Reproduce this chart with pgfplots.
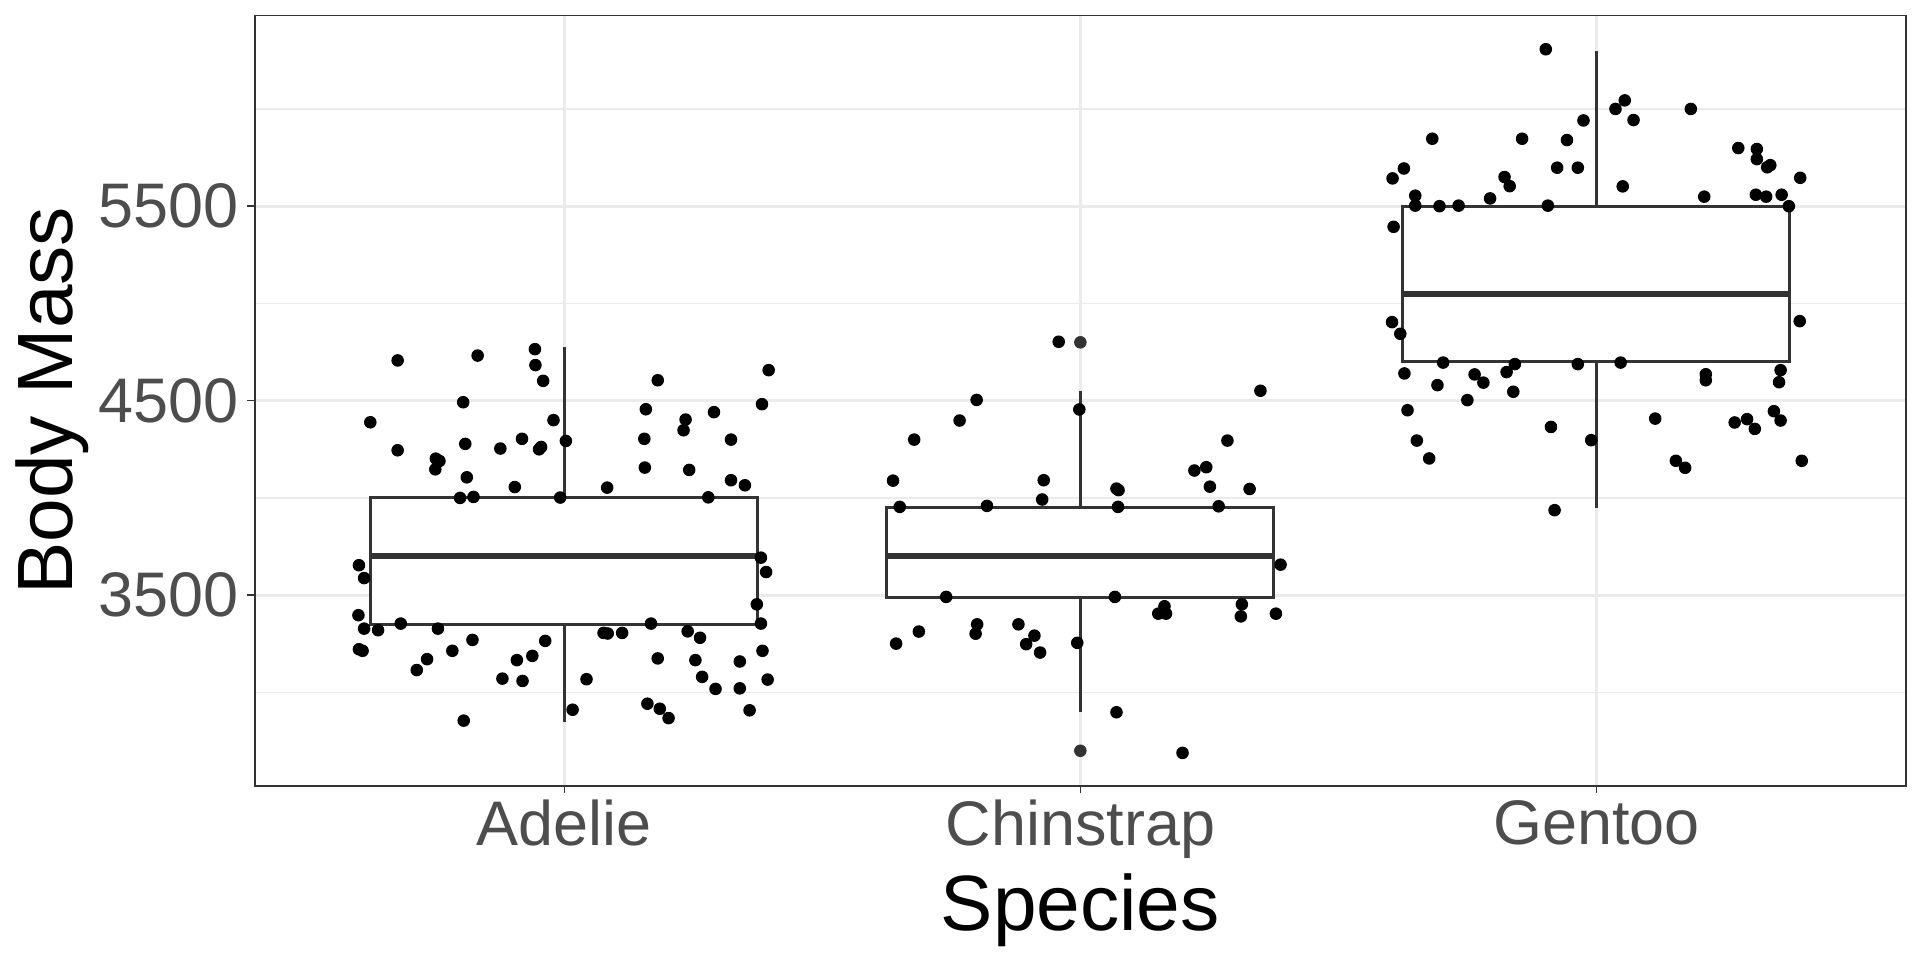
\documentclass[border=0pt]{standalone}
\usepackage{pgfplots}
\usepackage{pgfplotstable}
\usepackage{fontspec}
\setmainfont{Liberation Sans}
\pgfplotsset{compat=1.18}

\definecolor{grey92}{HTML}{EBEBEB}
\definecolor{grey20}{HTML}{333333}
\definecolor{grey30}{HTML}{4D4D4D}

% jittered points (x = category 1..3 plus jitter, y = body mass)
\pgfplotstableread{
x y
0.677 4707
0.832 4732
0.943 4765
0.944 4683
0.959 4602
1.396 4657
1.181 4605
0.804 4492
1.158 4456
1.383 4482
0.624 4389
0.979 4400
1.235 4403
1.231 4348
1.290 4441
0.677 4245
0.808 4278
0.876 4254
0.918 4304
0.951 4250
0.955 4262
1.003 4293
1.155 4304
1.323 4300
0.751 4202
0.758 4190
0.750 4147
0.811 4106
0.904 4056
1.156 4156
1.242 4144
1.323 4091
1.350 4065
1.083 4053
0.798 4000
0.824 4005
0.992 4002
1.279 4003
0.602 3654
0.612 3588
1.381 3693
1.391 3619
0.601 3397
0.612 3328
0.639 3320
0.683 3354
0.755 3328
1.373 3453
1.381 3354
0.822 3270
0.783 3214
0.602 3222
0.609 3214
0.734 3171
0.714 3115
0.908 3166
0.938 3188
0.963 3265
0.880 3071
0.919 3059
1.043 3068
1.076 3306
1.084 3303
1.112 3306
1.168 3354
1.239 3314
1.263 3281
1.181 3175
1.254 3166
1.340 3159
1.384 3214
1.267 3080
1.293 3018
1.340 3021
1.394 3066
0.805 2855
1.016 2911
1.161 2942
1.185 2916
1.202 2868
1.359 2908
}\adelie

\pgfplotstableread{
x y
1.958 4803
1.799 4504
1.766 4398
1.678 4300
1.637 4089
1.929 4091
1.926 3992
1.998 4455
2.349 4551
2.285 4295
2.221 4141
2.244 4158
2.251 4058
2.328 4046
2.070 4048
2.074 4040
1.650 3954
1.819 3959
2.073 3954
2.268 3957
2.388 3657
1.740 3491
2.067 3491
2.163 3443
2.151 3405
2.166 3405
2.313 3453
2.311 3391
2.379 3405
1.687 3313
1.643 3251
1.800 3350
1.797 3302
1.880 3350
1.911 3292
1.895 3248
1.922 3205
1.994 3255
2.070 2898
2.198 2689
}\chinstrap

\pgfplotstableread{
x y
2.902 6307
3.037 6000
3.055 6044
3.072 5943
3.183 6000
2.975 5941
2.943 5840
2.856 5847
2.682 5847
2.627 5694
2.605 5643
2.924 5698
2.964 5698
2.822 5650
2.832 5603
3.051 5602
2.649 5554
2.794 5540
2.649 5503
2.696 5500
2.733 5503
2.906 5503
3.275 5799
3.311 5794
3.311 5742
3.331 5700
3.337 5711
3.395 5646
3.209 5549
3.309 5559
3.329 5549
3.359 5559
3.373 5500
2.607 5394
2.604 4904
2.620 4844
3.394 4909
2.703 4696
2.842 4688
2.964 4688
3.047 4696
2.628 4640
2.692 4580
2.764 4635
2.781 4593
2.826 4647
2.839 4546
2.750 4503
3.212 4636
3.212 4605
3.357 4657
3.354 4595
2.634 4451
2.652 4295
2.676 4203
2.912 4365
2.990 4297
3.114 4408
3.268 4388
3.292 4405
3.307 4355
3.344 4446
3.357 4398
3.154 4191
3.172 4155
3.398 4191
2.919 3937
}\gentoo

\begin{document}
\begin{tikzpicture}
\begin{axis}[
    scale only axis,
    width=619.1pt, height=288.75pt,
    xmin=0.4, xmax=3.6,
    ymin=2520, ymax=6480,
    xtick={1,2,3},
    xticklabels={Adelie,Chinstrap,Gentoo},
    ytick={3500,4500,5500},
    yticklabels={3500,4500,5500},
    minor ytick={3000,4000,5000,6000},
    grid=both,
    major grid style={grey92, line width=1pt},
    minor grid style={grey92, line width=0.6pt},
    axis line style={grey20, line width=0.6pt},
    tick pos=left,
    tick align=outside,
    major tick length=2.75pt,
    minor tick length=0pt,
    tick style={grey20, line width=0.6pt},
    ticklabel style={font=\fontsize{23.6}{26}\selectfont, text=grey30, inner sep=0pt},
    xticklabel style={anchor=north, yshift=-2.4pt},
    yticklabel style={anchor=east, xshift=-3.2pt},
    xlabel={Species},
    ylabel={Body Mass},
    label style={font=\fontsize{29.4}{32}\selectfont, text=black, inner sep=0pt},
    xlabel style={at={(axis description cs:0.5,-0.1877)}, anchor=base},
    ylabel style={at={(axis description cs:-0.1103,0.5)}, anchor=base},
    box/.style={draw=grey20, fill=white, line width=1.1pt},
    whisk/.style={grey20, line width=1.1pt},
    med/.style={grey20, line width=2.2pt},
    pts/.style={only marks, mark=*, mark size=2.15pt, black},
]
% jittered points
\addplot[pts] table[x=x, y=y] {\adelie};
\addplot[pts] table[x=x, y=y] {\chinstrap};
\addplot[pts] table[x=x, y=y] {\gentoo};

% Adelie box
\addplot[whisk] coordinates {(1,4000) (1,4775)};
\addplot[whisk] coordinates {(1,3350) (1,2850)};
\addplot[box] coordinates {(0.625,3350) (1.375,3350) (1.375,4000) (0.625,4000)} -- cycle;
\addplot[med] coordinates {(0.625,3700) (1.375,3700)};

% Chinstrap box
\addplot[whisk] coordinates {(2,3950) (2,4550)};
\addplot[whisk] coordinates {(2,3487.5) (2,2900)};
\addplot[box] coordinates {(1.625,3487.5) (2.375,3487.5) (2.375,3950) (1.625,3950)} -- cycle;
\addplot[med] coordinates {(1.625,3700) (2.375,3700)};
\addplot[pts, grey20] coordinates {(2,4800) (2,2700)};

% Gentoo box
\addplot[whisk] coordinates {(3,5500) (3,6300)};
\addplot[whisk] coordinates {(3,4700) (3,3950)};
\addplot[box] coordinates {(2.625,4700) (3.375,4700) (3.375,5500) (2.625,5500)} -- cycle;
\addplot[med] coordinates {(2.625,5050) (3.375,5050)};
\end{axis}
\pgfresetboundingbox
\path ([shift={(-95.5pt,-65.5pt)}]current axis.south west)
    rectangle ([shift={(5.25pt,5.85pt)}]current axis.north east);
\end{tikzpicture}
\end{document}
